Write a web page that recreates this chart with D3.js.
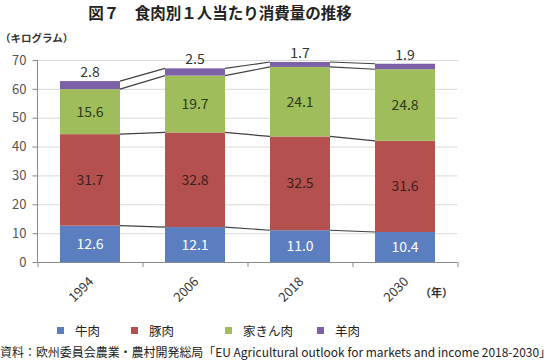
<!DOCTYPE html>
<html><head><meta charset="utf-8">
<script src="https://cdn.jsdelivr.net/npm/d3@7"></script>
<style>
html,body{margin:0;padding:0;background:#fff;}
svg{display:block;font-family:"Noto Sans CJK JP","Noto Sans",sans-serif;}
</style></head>
<body><svg id="c" width="552" height="360"></svg>
<script>
const years = ["1994","2006","2018","2030"];
const seriesNames = ["牛肉","豚肉","家きん肉","羊肉"];
const beef = [12.6, 12.1, 11.0, 10.4];
const pork = [31.7, 32.8, 32.5, 31.6];
const poultry = [15.6, 19.7, 24.1, 24.8];
const mutton = [2.8, 2.5, 1.7, 1.9];
const yTicks = [0,10,20,30,40,50,60,70];
const colors = ["#5a7ec0","#b4504d","#a0bd5c","#7c60a8"];
const labelColors = ["#ffffff","#3a2020","#2d3a18","#333333"];

const svg = d3.select("#c");
const seriesVals = [beef, pork, poultry, mutton];
const rows = years.map((y,i)=>{const r={year:y}; seriesNames.forEach((n,k)=>r[n]=seriesVals[k][i]); return r;});
const stack = d3.stack().keys(seriesNames)(rows);

const x = d3.scaleBand().domain(years).range([37.5,457.5]).paddingInner(0.4286).paddingOuter(0.2143);
const y = d3.scaleLinear().domain([0,70]).range([262,60]);

// title
svg.append("text").attr("x",220).attr("y",19).attr("text-anchor","middle")
  .attr("font-size",15.5).attr("font-weight","bold").attr("fill","#222")
  .text("図７　食肉別１人当たり消費量の推移");
svg.append("text").attr("x",0).attr("y",42).attr("font-size",10.5).attr("font-weight","bold").attr("fill","#333")
  .text("（キログラム）");

// gridlines
svg.append("g").selectAll("line").data(yTicks.filter(t=>t>0)).join("line")
  .attr("x1",38).attr("x2",457.5).attr("y1",d=>y(d)+0.5).attr("y2",d=>y(d)+0.5)
  .attr("stroke","#d9d9d9").attr("stroke-width",1);

// y axis
const ya = svg.append("g").attr("transform","translate(37.5,0)")
  .call(d3.axisLeft(y).tickValues(yTicks).tickSize(5).tickPadding(6).tickFormat(d3.format("d")));
ya.select(".domain").attr("stroke","#8a8a8a").attr("d","M0,262V60");
ya.selectAll(".tick line").attr("stroke","#8a8a8a");
ya.selectAll(".tick text").attr("fill","#555").attr("font-size",13).attr("font-family","Noto Sans CJK JP");

// connector lines
const bw = x.bandwidth();
stack.forEach(s=>{
  for(let i=0;i<years.length-1;i++){
    svg.append("line")
      .attr("x1",x(years[i])+bw).attr("y1",y(s[i][1]))
      .attr("x2",x(years[i+1])).attr("y2",y(s[i+1][1]))
      .attr("stroke","#404040").attr("stroke-width",1.2);
  }
});

// bars
stack.forEach((s,k)=>{
  svg.append("g").selectAll("rect").data(s).join("rect")
    .attr("x",d=>x(d.data.year)).attr("width",bw)
    .attr("y",d=>y(d[1])).attr("height",d=>y(d[0])-y(d[1]))
    .attr("fill",colors[k]);
});

// labels
stack.forEach((s,k)=>{
  svg.append("g").selectAll("text").data(s).join("text")
    .attr("x",d=>x(d.data.year)+bw/2)
    .attr("y",d=> k===3 ? y(d[1])-9 : (y(d[0])+y(d[1]))/2)
    .attr("dy","0.36em").attr("text-anchor","middle")
    .attr("font-size",14).attr("fill",labelColors[k])
    .text(d=>d3.format(".1f")(d[1]-d[0]));
});

// x axis
const xa = svg.append("g").attr("transform","translate(0,262)");
xa.append("line").attr("x1",37.5).attr("x2",457.5).attr("y1",0.5).attr("y2",0.5).attr("stroke","#8a8a8a");
const bounds = [37.5,142.5,247.5,352.5,457.5];
xa.selectAll("line.t").data(bounds).join("line").attr("class","t")
  .attr("x1",d=>d+0.5).attr("x2",d=>d+0.5).attr("y1",0).attr("y2",5).attr("stroke","#8a8a8a");
xa.selectAll("text").data(years).join("text")
  .attr("transform",d=>`translate(${x(d)+bw/2-2},${14}) rotate(-45)`)
  .attr("text-anchor","end").attr("dy","0.7em").attr("font-size",13).attr("fill","#333")
  .text(d=>d);
svg.append("text").attr("x",420).attr("y",297).attr("font-size",11).attr("font-weight","bold").attr("fill","#333").text("（年）");

// legend
const legX = [57,131,225,317];
const lg = svg.append("g");
seriesNames.forEach((n,k)=>{
  lg.append("rect").attr("x",legX[k]).attr("y",327).attr("width",7).attr("height",7).attr("fill",colors[k]);
  lg.append("text").attr("x",legX[k]+18).attr("y",331).attr("dy","0.36em").attr("font-size",12.5).attr("fill","#222").text(n);
});

// source
svg.append("text").attr("x",0).attr("y",357).attr("font-size",12).attr("fill","#222")
  .attr("textLength",551).attr("lengthAdjust","spacingAndGlyphs")
  .text("資料：欧州委員会農業・農村開発総局「EU Agricultural outlook for markets and income 2018-2030」");
</script></body></html>
